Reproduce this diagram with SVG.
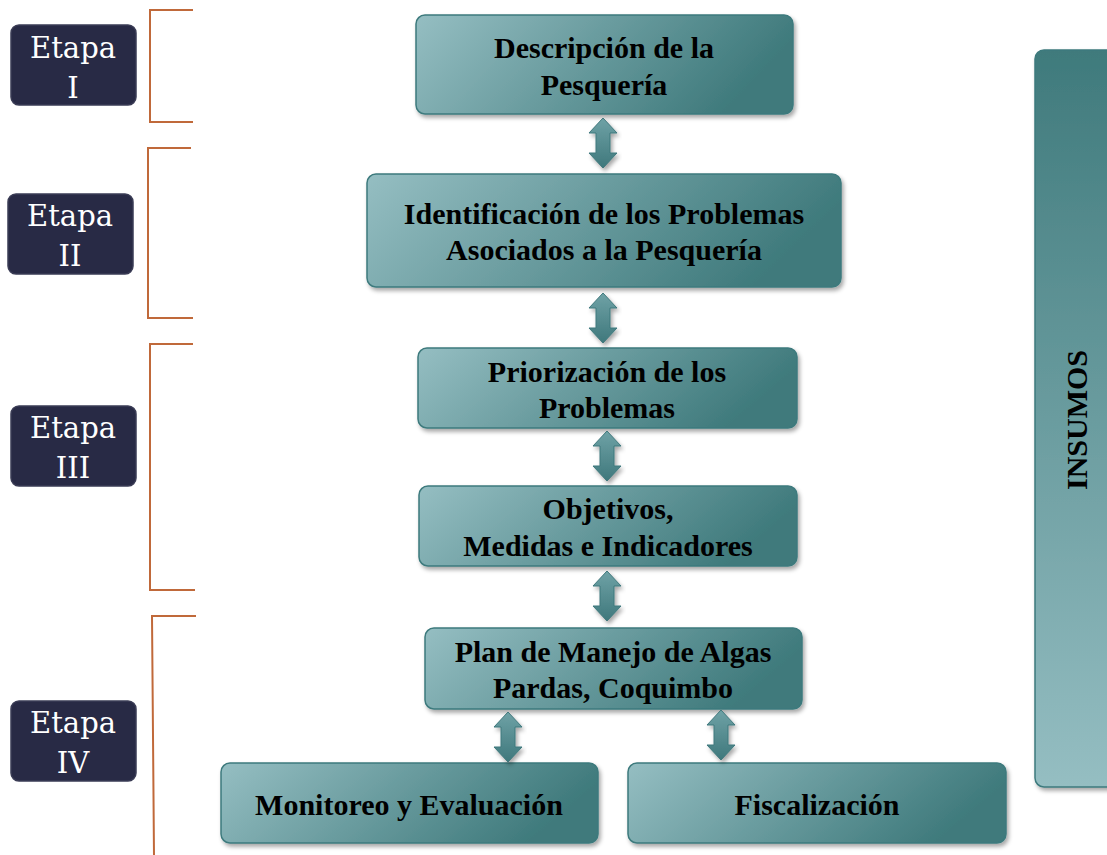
<svg xmlns="http://www.w3.org/2000/svg" width="1107" height="855" viewBox="0 0 1107 855">
<defs>
<linearGradient id="gBox" x1="0" y1="0" x2="1" y2="0.25">
<stop offset="0" stop-color="#95bec2"/>
<stop offset="1" stop-color="#3f7a7c"/>
</linearGradient>
<linearGradient id="gIns" x1="0" y1="0" x2="0" y2="1">
<stop offset="0" stop-color="#3f7a7c"/>
<stop offset="1" stop-color="#95bec2"/>
</linearGradient>
<linearGradient id="gArr" x1="0" y1="0" x2="0" y2="1">
<stop offset="0" stop-color="#6fa2a6"/>
<stop offset="1" stop-color="#3f787c"/>
</linearGradient>
<filter id="sh" x="-10%" y="-10%" width="125%" height="130%">
<feDropShadow dx="2" dy="3" stdDeviation="2" flood-color="#000" flood-opacity="0.35"/>
</filter>
<path id="dArr" d="M0,0 L14,15 L7,15 L7,35 L14,35 L0,50 L-14,35 L-7,35 L-7,15 L-14,15 Z"/>
</defs>
<style>
.etapa{fill:#282a45;stroke:#3a3c55;stroke-width:1.5}
.et{font-family:"DejaVu Serif",serif;font-size:29px;fill:#fff;text-anchor:middle}
.br{fill:none;stroke:#c0693a;stroke-width:2}
.box{fill:url(#gBox);stroke:#3d7a7d;stroke-width:1.5;filter:url(#sh)}
.bt{font-family:"Liberation Serif",serif;font-weight:bold;font-size:30px;fill:#000;text-anchor:middle}
.arr{fill:url(#gArr);stroke:#3f787c;stroke-width:1;filter:url(#sh)}
</style>
<rect width="1107" height="855" fill="#fff"/>

<g id="etapa1"><rect class="etapa" x="11" y="25" width="125" height="80" rx="8"/><text class="et" x="73" y="58">Etapa</text><text class="et" x="73" y="98">I</text></g>
<g id="etapa2"><rect class="etapa" x="8" y="194" width="125" height="80" rx="8"/><text class="et" x="70" y="226">Etapa</text><text class="et" x="70" y="266">II</text></g>
<g id="etapa3"><rect class="etapa" x="11" y="406" width="125" height="80" rx="8"/><text class="et" x="73" y="438">Etapa</text><text class="et" x="73" y="478">III</text></g>
<g id="etapa4"><rect class="etapa" x="11" y="701" width="125" height="80" rx="8"/><text class="et" x="73" y="733">Etapa</text><text class="et" x="73" y="773">IV</text></g>

<g id="brackets">
<path class="br" d="M193,10 H150 V122 H193"/>
<path class="br" d="M191,148 H148 V318 H193"/>
<path class="br" d="M193,344 H150 V590 H195"/>
<path class="br" d="M196,616 H152 L154,855"/>
</g>

<g id="b1"><rect class="box" x="416" y="15" width="377" height="99" rx="9"/><text class="bt" x="604" y="58">Descripción de la</text><text class="bt" x="604" y="95">Pesquería</text></g>
<g id="b2"><rect class="box" x="367" y="174" width="474" height="113" rx="9"/><text class="bt" x="604" y="224">Identificación de los Problemas</text><text class="bt" x="604" y="260">Asociados a la Pesquería</text></g>
<g id="b3"><rect class="box" x="418" y="348" width="379" height="80" rx="9"/><text class="bt" x="607" y="382">Priorización de los</text><text class="bt" x="607" y="418">Problemas</text></g>
<g id="b4"><rect class="box" x="419" y="486" width="378" height="80" rx="9"/><text class="bt" x="608" y="519">Objetivos,</text><text class="bt" x="608" y="556">Medidas e Indicadores</text></g>
<g id="b5"><rect class="box" x="425" y="628" width="377" height="81" rx="9"/><text class="bt" x="613" y="662">Plan de Manejo de Algas</text><text class="bt" x="613" y="698">Pardas, Coquimbo</text></g>
<g id="b6"><rect class="box" x="221" y="763" width="377" height="80" rx="9"/><text class="bt" x="409" y="815">Monitoreo y Evaluación</text></g>
<g id="b7"><rect class="box" x="628" y="763" width="378" height="80" rx="9"/><text class="bt" x="817" y="815">Fiscalización</text></g>
<g id="insumos"><rect x="1035" y="50" width="90" height="737" rx="9" fill="url(#gIns)" stroke="#3d7a7d" stroke-width="1.5" filter="url(#sh)"/><text class="bt" font-size="27" transform="translate(1087,420) rotate(-90)">INSUMOS</text></g>

<g id="connectors">
<use href="#dArr" class="arr" x="603" y="118"/>
<use href="#dArr" class="arr" x="603" y="293"/>
<use href="#dArr" class="arr" x="607" y="431"/>
<use href="#dArr" class="arr" x="607" y="571"/>
<use href="#dArr" class="arr" x="508" y="712"/>
<use href="#dArr" class="arr" x="721" y="710"/>
</g>
</svg>
